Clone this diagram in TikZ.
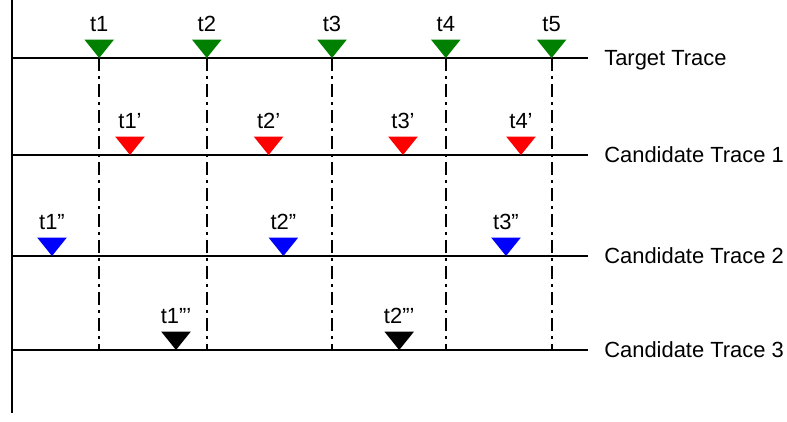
\documentclass[tikz,border=0pt]{standalone}
\usepackage{fontspec}
\setmainfont{Liberation Sans}
\usepackage{xcolor}
\usepackage{tikz}
\usetikzlibrary{positioning}
\definecolor{mkgreen}{RGB}{0,128,0}
\definecolor{mkred}{RGB}{255,0,0}
\definecolor{mkblue}{RGB}{0,0,255}
\tikzset{
	trace/.style={line width=1.4pt},
	guide/.style={line width=1.4pt, dash pattern=on 9.2pt off 3.6pt on 2.1pt off 3.6pt},
	lbl/.style={inner sep=0pt, anchor=base},
	tracelbl/.style={inner sep=0pt, anchor=base west}
}
% event marker: x, y, colour, label, node name
\newcommand{\evMark}[5]{%
	\fill[#3] ({#1-0.37},{#2+0.46}) -- ({#1+0.37},{#2+0.46}) -- (#1,#2) -- cycle;
	\node[lbl] (#5) at (#1,{#2+0.66}) {#4};}

\begin{document}
\begin{tikzpicture}[font=\fontsize{15.6pt}{18pt}\selectfont]
	\useasboundingbox (0,0) rectangle (19.675,10.525);
	% axis and traces
	\draw[line width=2.1pt] (0.3,10.525) -- (0.3,0.2);
	\draw[trace] (0.3,9.075) -- (14.7,9.075);
	\draw[trace] (0.3,6.65) -- (14.7,6.65);
	\draw[trace] (0.3,4.125) -- (14.7,4.125);
	\draw[trace] (0.3,1.775) -- (14.7,1.775);
	\node[tracelbl] (target) at (15.1,8.885) {Target Trace};
	\node[tracelbl] (cand1) at (15.1,6.46) {Candidate Trace 1};
	\node[tracelbl] (cand2) at (15.1,3.935) {Candidate Trace 2};
	\node[tracelbl] (cand3) at (15.1,1.585) {Candidate Trace 3};
	% guides from target events
	\draw[guide] (2.48,9.075) -- (2.48,1.775);
	\draw[guide] (5.17,9.075) -- (5.17,1.775);
	\draw[guide] (8.3,9.075) -- (8.3,1.775);
	\draw[guide] (11.145,9.075) -- (11.145,1.775);
	\draw[guide] (13.79,9.075) -- (13.79,1.775);
	% target trace
	\evMark{2.48}{9.075}{mkgreen}{t1}{ta}
	\evMark{5.17}{9.075}{mkgreen}{t2}{tb}
	\evMark{8.3}{9.075}{mkgreen}{t3}{tc}
	\evMark{11.145}{9.075}{mkgreen}{t4}{td}
	\evMark{13.79}{9.075}{mkgreen}{t5}{te}
	% candidate trace 1
	\evMark{3.25}{6.65}{mkred}{t1’}{ca}
	\evMark{6.715}{6.65}{mkred}{t2’}{cb}
	\evMark{10.075}{6.65}{mkred}{t3’}{cc}
	\evMark{13.025}{6.65}{mkred}{t4’}{cd}
	% candidate trace 2
	\evMark{1.3}{4.125}{mkblue}{t1”}{da}
	\evMark{7.085}{4.125}{mkblue}{t2”}{db}
	\evMark{12.65}{4.125}{mkblue}{t3”}{dc}
	% candidate trace 3
	\evMark{4.4}{1.775}{black}{t1”’}{ea}
	\evMark{9.98}{1.775}{black}{t2”’}{eb}
\end{tikzpicture}
\end{document}
